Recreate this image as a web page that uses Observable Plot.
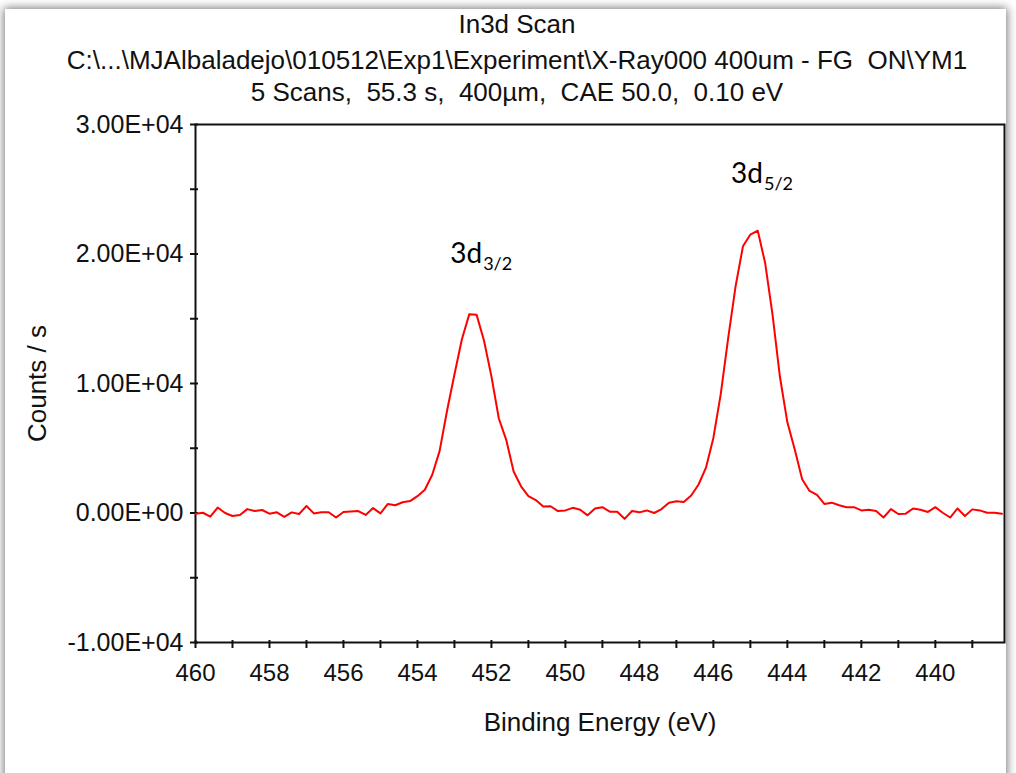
<!DOCTYPE html>
<html>
<head>
<meta charset="utf-8">
<script src="https://cdn.jsdelivr.net/npm/d3@7"></script>
<script src="https://cdn.jsdelivr.net/npm/@observablehq/plot@0.6"></script>
<style>
  html, body { margin: 0; padding: 0; background: #fff; overflow: hidden; }
  #wrap { position: relative; width: 1016px; height: 773px; overflow: hidden; background: #fff; }
  #card { position: absolute; left: 5px; top: 9px; width: 1001px; height: 820px; background: #fff;
          box-shadow: 0 0 9px 1px rgba(0,0,0,0.55); }
  .t { position: absolute; left: 0; width: 1034px; text-align: center; white-space: pre;
       font-family: "Liberation Sans", Arial, sans-serif; font-size: 26px; line-height: 26px; color: #111; }
  #chart { position: absolute; left: 0; top: 0; }
</style>
</head>
<body>
<div id="wrap">
  <div id="card"></div>
  <div class="t" id="t1" style="top:11px"></div>
  <div class="t" id="t2" style="top:47px"></div>
  <div class="t" id="t3" style="top:79px"></div>
  <div id="chart"></div>
</div>
<script>
// ---- data ----
const titleLines = [
  "In3d Scan",
  "C:\\...\\MJAlbaladejo\\010512\\Exp1\\Experiment\\X-Ray000 400um - FG  ON\\YM1",
  "5 Scans,  55.3 s,  400\u00b5m,  CAE 50.0,  0.10 eV"
];
const xLabel = "Binding Energy (eV)";
const yLabel = "Counts / s";

const energy = [
  460.0,459.8,459.6,459.4,459.2,459.0,458.8,458.6,458.4,458.2,
  458.0,457.8,457.6,457.4,457.2,457.0,456.8,456.6,456.4,456.2,
  456.0,455.8,455.6,455.4,455.2,455.0,454.8,454.6,454.4,454.2,
  454.0,453.8,453.6,453.4,453.2,453.0,452.8,452.6,452.4,452.2,
  452.0,451.8,451.6,451.4,451.2,451.0,450.8,450.6,450.4,450.2,
  450.0,449.8,449.6,449.4,449.2,449.0,448.8,448.6,448.4,448.2,
  448.0,447.8,447.6,447.4,447.2,447.0,446.8,446.6,446.4,446.2,
  446.0,445.8,445.6,445.4,445.2,445.0,444.8,444.6,444.4,444.2,
  444.0,443.8,443.6,443.4,443.2,443.0,442.8,442.6,442.4,442.2,
  442.0,441.8,441.6,441.4,441.2,441.0,440.8,440.6,440.4,440.2,
  440.0,439.8,439.6,439.4,439.2,439.0,438.8,438.6,438.4,438.2
];
const counts = [
  -50,20,-280,420,0,-230,-150,300,150,230,
  -50,50,-300,50,-80,540,-30,50,60,-350,
  80,120,150,-150,380,-30,700,600,830,920,
  1300,1800,2950,4800,7900,10700,13400,15340,15300,13300,
  10550,7300,5650,3200,2060,1310,1000,500,520,150,
  200,400,250,-180,350,450,100,100,-450,150,
  50,200,0,300,800,900,850,1350,2200,3500,
  5800,9200,13500,17500,20600,21500,21800,19300,15300,10500,
  7000,4900,2600,1700,1400,700,800,600,450,450,
  200,250,150,-350,300,-80,-50,350,250,80,
  450,20,-350,350,-230,280,200,20,20,-60
];

const xDomain = [460, 438.13];
const yDomain = [-10000, 30000];
const xMajor = [460, 458, 456, 454, 452, 450, 448, 446, 444, 442, 440];
const xTickLabels = ["460","458","456","454","452","450","448","446","444","442","440"];
const xAllTicks = [460,459,458,457,456,455,454,453,452,451,450,449,448,447,446,445,444,443,442,441,440,439];
const yMajor = [30000, 20000, 10000, 0, -10000];
const yTickLabels = ["3.00E+04","2.00E+04","1.00E+04","0.00E+00","-1.00E+04"];
const yAllTicks = [30000,25000,20000,15000,10000,5000,0,-5000,-10000];

const peakMain = ["3d", "3d"];
const peakSub = ["3/2", "5/2"];
const peakEnergy = [452.25, 444.66];
const peakY = [20000, 26170];

// ---- build ----
titleLines.forEach((s, i) => document.getElementById("t" + (i + 1)).textContent = s);

const data = energy.map((e, i) => ({e, c: counts[i]}));
const ann = peakMain.map((m, i) => ({m, s: peakSub[i], e: peakEnergy[i], y: peakY[i]}));
const xFmt = new Map(xMajor.map((v, i) => [v, xTickLabels[i]]));
const yFmt = new Map(yMajor.map((v, i) => [v, yTickLabels[i]]));

const font = '"Liberation Sans", Arial, sans-serif';
const annFont = 'Lato, "Open Sans", sans-serif';

const plot = Plot.plot({
  width: 1016,
  height: 773,
  marginLeft: 195,
  marginRight: 12,
  marginTop: 124,
  marginBottom: 131,
  style: {fontFamily: font, fontSize: "22px", color: "#111", background: "transparent", overflow: "visible"},
  x: {domain: xDomain, axis: null},
  y: {domain: yDomain, axis: null},
  marks: [
    Plot.frame({stroke: "#111", strokeWidth: 2}),
    Plot.axisY({ticks: yAllTicks, tickSize: 8, dx: 3, tickFormat: () => "", strokeWidth: 2, label: null}),
    Plot.axisY({ticks: yMajor, tickSize: 0, tickPadding: 12, tickFormat: d => yFmt.get(d), fontSize: 25, label: null}),
    Plot.axisX({ticks: xAllTicks, tickSize: 8, dy: -2, tickFormat: () => "", strokeWidth: 2, label: null}),
    Plot.axisX({ticks: xMajor, tickSize: 0, tickPadding: 21, tickFormat: d => xFmt.get(d), fontSize: 24, label: null}),
    Plot.line(data, {x: "e", y: "c", stroke: "#ff0000", strokeWidth: 2}),
    Plot.text(ann, {x: "e", y: "y", text: "m", textAnchor: "end", fontSize: 28, fontFamily: annFont, fill: "#000"}),
    Plot.text(ann, {x: "e", y: "y", text: "s", textAnchor: "start", dx: 1, dy: 10, fontSize: 18, fontFamily: annFont, fill: "#000"}),
    Plot.text([yLabel], {frameAnchor: "left", textAnchor: "middle", lineAnchor: "middle", rotate: -90, dx: -158, fontSize: 26}),
    Plot.text([xLabel], {frameAnchor: "bottom", textAnchor: "middle", lineAnchor: "middle", dy: 80, fontSize: 26})
  ]
});
document.getElementById("chart").appendChild(plot);
</script>
</body>
</html>
